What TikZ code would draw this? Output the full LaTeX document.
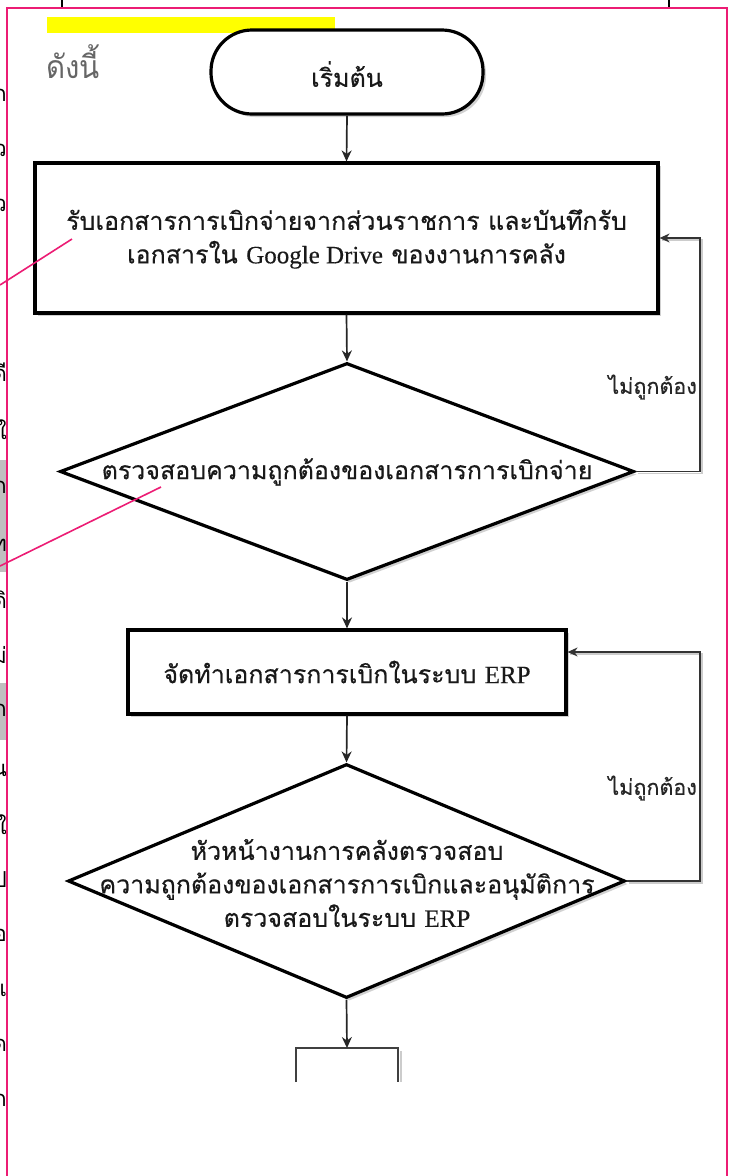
\documentclass[tikz,border=0pt]{standalone}
\usepackage{fontspec}
\newfontfamily\thai[Script=Thai,FakeBold=0.4]{Loma}
\newfontfamily\thaiplain[Script=Thai]{Loma}
\newfontfamily\lserif[FakeBold=0.3]{Liberation Serif}
\usetikzlibrary{shapes.geometric,shadows,arrows.meta}
\definecolor{pinkline}{RGB}{236,28,116}
\definecolor{hiyellow}{RGB}{255,255,0}
\tikzset{
  shadowed/.style={drop shadow={shadow xshift=3pt,shadow yshift=-3pt,fill=black!40,opacity=0.45}},
  procbox/.style={draw,line width=3.2pt,fill=white,shadowed,inner sep=0pt},
  decbox/.style={diamond,draw,line width=3.2pt,fill=white,shadowed,inner sep=0pt},
  termbox/.style={rectangle,rounded corners=41pt,draw,line width=3.2pt,fill=white,shadowed,inner sep=0pt},
  maintext/.style={font=\thai\fontsize{25}{33.5}\selectfont,align=center,inner sep=0pt,text=black!90},
  labeltext/.style={font=\thai\fontsize{21.5}{24}\selectfont,inner sep=0pt,text=black!85},
  flowarr/.style={line width=1.7pt,black!85,-{Stealth[length=11pt,width=10pt]}},
  looparr/.style={line width=1.4pt,black!80,-{Stealth[length=10pt,width=9pt]}},
  edgetext/.style={font=\thaiplain\fontsize{22}{22}\selectfont,inner sep=0pt}
}
\begin{document}
\begin{tikzpicture}[x=1pt,y=-1pt]
\useasboundingbox (0,0) rectangle (732,1176);
\fill[white] (0,0) rectangle (732,1176);

% page fragments outside / at top
\draw[line width=1.5pt] (62,0) -- (62,8);
\draw[line width=1.5pt] (669,0) -- (669,8);
\fill[black!25] (0,460) rectangle (7,572);
\fill[black!25] (0,683) rectangle (7,740);
\begin{scope}
\clip (0,0) rectangle (6,1176);
\foreach \yy/\ch in {95/ก,150/ว,205/ว,372/ดี,430/ใ,487/ก,545/ท,600/ดิ,655/ม่,710/ก,770/น,825/ใ,880/ป,935/อ,990/แ,1045/ด,1100/ก}
  \node[edgetext,anchor=east] at (7,\yy) {\ch};
\end{scope}

% yellow highlight and heading
\fill[hiyellow] (47,17) rectangle (335,33);
\node[font=\thaiplain\fontsize{32}{32}\selectfont,text=black!60,anchor=west,inner sep=0pt,xscale=0.92] (head) at (46,62) {ดังนี้};

% flowchart
\node[termbox,minimum width=272pt,minimum height=84pt] (start) at (347,72) {};
\node[maintext] (startt) at (347,74) {เริ่มต้น};

\node[procbox,minimum width=623pt,minimum height=150pt] (b1) at (346.5,238) {};
\node[maintext] (b1t) at (346.5,239) {รับเอกสารการเบิกจ่ายจากส่วนราชการ และบันทึกรับ\\เอกสารใน {\lserif Google Drive} ของงานการคลัง};

\node[decbox,minimum width=574pt,minimum height=217pt] (d1) at (347,471.5) {};
\node[maintext] (d1t) at (347,472) {ตรวจสอบความถูกต้องของเอกสารการเบิกจ่าย};

\node[procbox,minimum width=438pt,minimum height=84pt] (b2) at (347,672) {};
\node[maintext] (b2t) at (347,672) {จัดทำเอกสารการเบิกในระบบ {\lserif ERP}};

\node[decbox,minimum width=557pt,minimum height=234pt] (d2) at (346.5,881) {};
\node[maintext] (d2t) at (347,883) {หัวหน้างานการคลังตรวจสอบ\\ความถูกต้องของเอกสารการเบิกและอนุมัติการ\\ตรวจสอบในระบบ {\lserif ERP}};

% partial next box
\coordinate (b3) at (347,1048);
\draw[black!20,line width=2pt] (400.5,1051) -- (400.5,1082);
\draw[line width=1.7pt,black!75] (296,1082) -- (296,1048) -- (398,1048) -- (398,1082);

% straight connectors
\draw[flowarr] (start.south) -- (b1.north);
\draw[flowarr] (b1.south) -- (d1.north);
\draw[flowarr] (d1.south) -- (b2.north);
\draw[flowarr] (b2.south) -- (d2.north);
\draw[flowarr] (d2.south) -- (b3);

% loop-backs
\coordinate (l1) at (700,238);
\coordinate (l2) at (700,652);
\draw[line width=1.6pt,black!20,transform canvas={xshift=2pt,yshift=-2pt}] (d1.east) -| (l1) -- (b1.east |- l1);
\draw[looparr] (d1.east) -| (l1) -- (b1.east |- l1);
\node[labeltext,anchor=east] (n1) at (697,387) {ไม่ถูกต้อง};
\draw[line width=1.6pt,black!20,transform canvas={xshift=2pt,yshift=-2pt}] (d2.east) -| (l2) -- (b2.east |- l2);
\draw[looparr] (d2.east) -| (l2) -- (b2.east |- l2);
\node[labeltext,anchor=east] (n2) at (697,788) {ไม่ถูกต้อง};

% pink callouts and frame
\draw[pinkline,line width=1.6pt] (0,285) -- (72,239);
\draw[pinkline,line width=1.6pt] (0,566) -- (161,487);
\draw[pinkline,line width=1.8pt] (7,1180) -- (7,8) -- (727,8) -- (727,1180);
\end{tikzpicture}
\end{document}
